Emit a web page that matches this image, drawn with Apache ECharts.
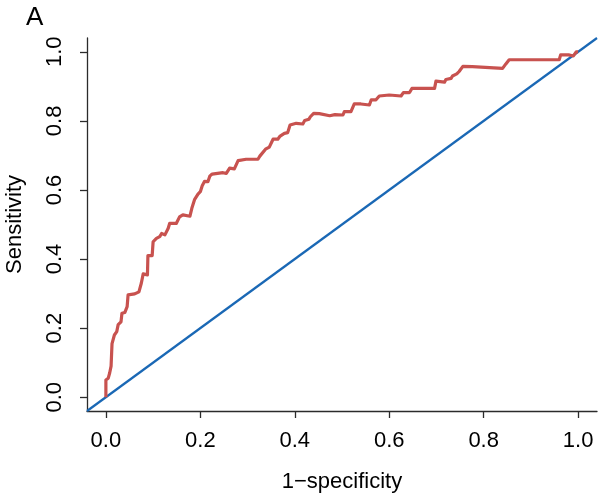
<!DOCTYPE html>
<html>
<head>
<meta charset="utf-8">
<script src="https://cdn.jsdelivr.net/npm/echarts@6/dist/echarts.min.js"></script>
<style>
  html, body { margin: 0; padding: 0; background: #fff; }
  #chart { width: 600px; height: 496px; }
</style>
</head>
<body>
<div id="chart"></div>
<script>
var myChart = echarts.init(document.getElementById('chart'));

// ROC curve
var fpr = [0, 0, 0.005, 0.008, 0.011, 0.013, 0.018, 0.023, 0.026, 0.032, 0.034, 0.04, 0.045, 0.047,
    0.061, 0.07, 0.075, 0.079, 0.088, 0.089, 0.098, 0.1, 0.107, 0.114, 0.118, 0.125, 0.132, 0.135,
    0.149, 0.156, 0.163, 0.178, 0.182, 0.188, 0.195, 0.2, 0.204, 0.209, 0.216, 0.22, 0.225, 0.248,
    0.255, 0.262, 0.272, 0.28, 0.297, 0.322, 0.326, 0.338, 0.346, 0.354, 0.364, 0.369, 0.378, 0.385,
    0.39, 0.403, 0.417, 0.421, 0.43, 0.433, 0.44, 0.452, 0.474, 0.485, 0.502, 0.505, 0.519, 0.526,
    0.54, 0.558, 0.562, 0.572, 0.579, 0.6, 0.625, 0.63, 0.643, 0.648, 0.696, 0.699, 0.717, 0.72,
    0.731, 0.734, 0.743, 0.748, 0.756, 0.776, 0.84, 0.847, 0.854, 0.96, 0.963, 0.98, 0.99, 0.996, 1];
var tpr = [0, 0.05, 0.055, 0.07, 0.09, 0.155, 0.18, 0.19, 0.21, 0.218, 0.243, 0.245, 0.262, 0.296,
    0.299, 0.305, 0.33, 0.357, 0.354, 0.41, 0.41, 0.45, 0.46, 0.465, 0.474, 0.47, 0.489, 0.503,
    0.503, 0.522, 0.528, 0.524, 0.547, 0.573, 0.588, 0.595, 0.612, 0.625, 0.624, 0.64, 0.646, 0.65,
    0.648, 0.663, 0.661, 0.685, 0.689, 0.689, 0.698, 0.718, 0.724, 0.747, 0.747, 0.756, 0.764, 0.766,
    0.788, 0.793, 0.791, 0.801, 0.805, 0.812, 0.822, 0.821, 0.815, 0.818, 0.817, 0.827, 0.827, 0.849,
    0.849, 0.846, 0.861, 0.861, 0.872, 0.875, 0.872, 0.882, 0.882, 0.894, 0.894, 0.915, 0.912, 0.92,
    0.923, 0.93, 0.936, 0.943, 0.958, 0.957, 0.952, 0.965, 0.977, 0.977, 0.991, 0.991, 0.988, 1.0, 1];

// reference diagonal across the whole plot region
var diagX = [-0.04, 1.04];
var diagY = [-0.04, 1.04];

var xTicks = [0, 0.2, 0.4, 0.6, 0.8, 1.0];
var yTicks = [0, 0.2, 0.4, 0.6, 0.8, 1.0];

var rocData = [];
for (var i = 0; i < fpr.length; i++) {
    rocData.push([fpr[i], tpr[i]]);
}
var diagData = [];
for (var j = 0; j < diagX.length; j++) {
    diagData.push([diagX[j], diagY[j]]);
}

var axisColor = '#2b2b2b';
var fontFamily = '"Liberation Sans", Arial, sans-serif';

myChart.setOption({
    backgroundColor: '#ffffff',
    animation: false,
    title: {
        text: 'A',
        left: 21,
        top: 0,
        textStyle: {
            fontFamily: fontFamily,
            fontSize: 26,
            fontWeight: 'normal',
            color: '#000'
        }
    },
    grid: {
        left: 87,
        right: 3,
        top: 38,
        bottom: 85,
        containLabel: false,
        outerBoundsMode: 'none'
    },
    xAxis: {
        type: 'value',
        min: -0.04,
        max: 1.04,
        name: '1\u2212specificity',
        nameLocation: 'middle',
        nameGap: 60,
        nameTextStyle: {fontFamily: fontFamily, fontSize: 22, color: '#000'},
        axisLine: {onZero: false, lineStyle: {color: axisColor, width: 1.3}},
        axisTick: {show: true, length: 7, customValues: xTicks, lineStyle: {color: axisColor, width: 1.3}},
        axisLabel: {
            customValues: xTicks,
            margin: 19,
            fontFamily: fontFamily,
            fontSize: 22,
            color: '#000',
            formatter: function (v) { return v.toFixed(1); }
        },
        splitLine: {show: false}
    },
    yAxis: {
        type: 'value',
        min: -0.04,
        max: 1.04,
        name: 'Sensitivity',
        nameLocation: 'middle',
        nameGap: 61,
        nameTextStyle: {fontFamily: fontFamily, fontSize: 22, color: '#000'},
        axisLine: {onZero: false, lineStyle: {color: axisColor, width: 1.3}},
        axisTick: {show: true, length: 7, customValues: yTicks, lineStyle: {color: axisColor, width: 1.3}},
        axisLabel: {
            customValues: yTicks,
            rotate: 90,
            margin: 21,
            fontFamily: fontFamily,
            fontSize: 22,
            color: '#000',
            formatter: function (v) { return v.toFixed(1); }
        },
        splitLine: {show: false}
    },
    series: [
        {
            name: 'diagonal',
            type: 'line',
            data: diagData,
            symbol: 'none',
            lineStyle: {color: '#1a68b5', width: 2.2},
            z: 2
        },
        {
            name: 'ROC',
            type: 'line',
            data: rocData,
            symbol: 'none',
            lineStyle: {color: '#c8524f', width: 3.2, join: 'round'},
            z: 3
        }
    ]
});
</script>
</body>
</html>
